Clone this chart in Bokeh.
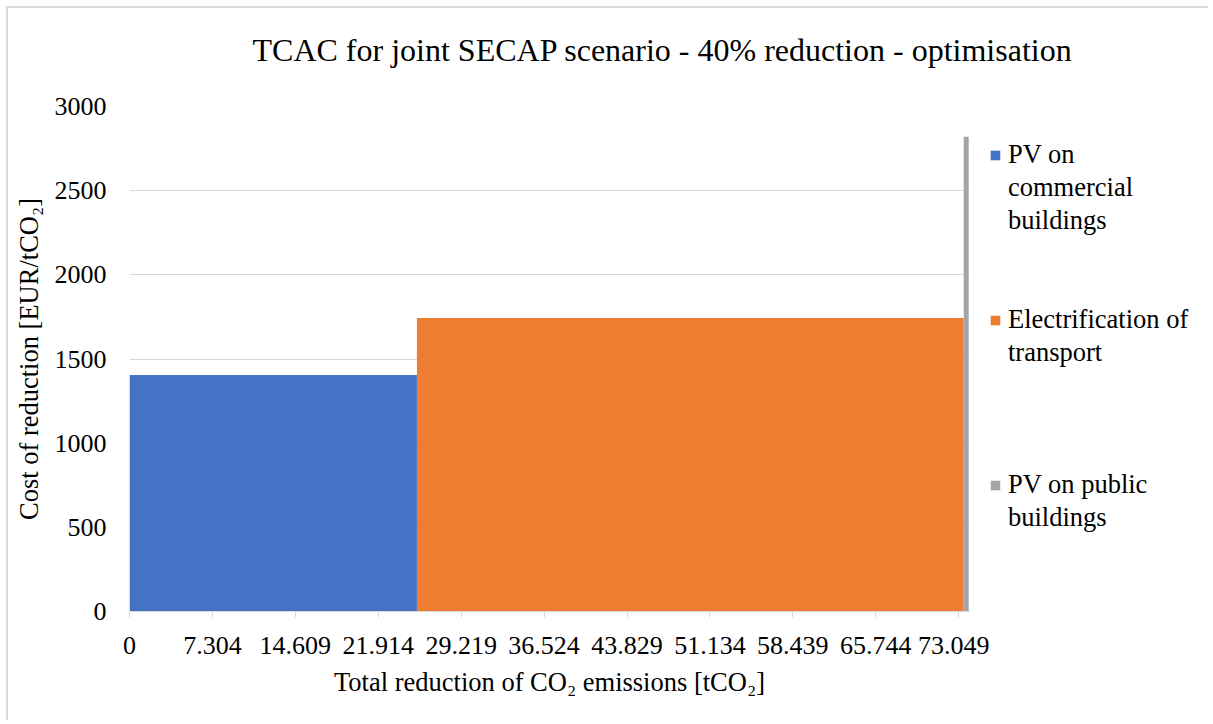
import numpy as np
from bokeh.plotting import figure
from bokeh.models import Range1d, FixedTicker, Legend, LegendItem, Label
from bokeh.layouts import row, column
from bokeh.embed import file_html
from bokeh.resources import INLINE

# ---- data ----
title_text = "TCAC for joint SECAP scenario - 40% reduction - optimisation"
measures = ["PV on commercial buildings", "Electrification of transport", "PV on public buildings"]
legend_labels = ["PV on\ncommercial\nbuildings", "Electrification of\ntransport", "PV on public\nbuildings"]
reduction = [25.32, 48.17, 0.44]          # tCO2 (bar widths)
cost = [1405, 1744, 2821]                 # EUR/tCO2 (bar heights)
colors = ["#4472C4", "#ED7D31", "#A5A5A5"]
x_tick_labels = ["0", "7.304", "14.609", "21.914", "29.219", "36.524",
                 "43.829", "51.134", "58.439", "65.744", "73.049"]
y_ticks = [0, 500, 1000, 1500, 2000, 2500, 3000]

right_edges = np.cumsum(reduction)
left_edges = right_edges - np.array(reduction)
x_ticks = [float(s) for s in x_tick_labels]

FONT = "Times New Roman"

# ---------- title strip ----------
pt = figure(width=1200, height=78, output_backend="svg", toolbar_location=None,
            title_location=None, x_axis_location=None, y_axis_location=None,
            min_border=0, x_range=Range1d(0, 1), y_range=Range1d(0, 1))
pt.outline_line_color = None
pt.grid.visible = False
pt.add_layout(Label(x=244, y=37, x_units="screen", y_units="screen", text=title_text,
                    text_font=FONT, text_font_size="32px", text_color="#000000",
                    text_baseline="alphabetic", text_align="left"))

# ---------- main chart ----------
p = figure(width=981, height=634, output_backend="svg", toolbar_location=None,
           title_location=None,
           x_range=Range1d(0, 74.0), y_range=Range1d(0, 3000),
           min_border_left=121, min_border_right=20, min_border_top=20, min_border_bottom=109)
p.outline_line_color = None

renderers = []
for i in range(len(measures)):
    r = p.quad(left=[left_edges[i]], right=[right_edges[i]], bottom=[0], top=[cost[i]],
               fill_color=colors[i], line_color=None)
    renderers.append(r)

xa = p.xaxis[0]
xa.ticker = FixedTicker(ticks=x_ticks)
xa.major_label_overrides = {x_ticks[i]: x_tick_labels[i] for i in range(len(x_ticks))}
xa.axis_line_color = "#d9d9d9"
xa.major_tick_line_color = "#d9d9d9"
xa.major_tick_in = 0
xa.major_tick_out = 6
xa.minor_tick_line_color = None
xa.major_label_text_font = FONT
xa.major_label_text_font_size = "26px"
xa.major_label_text_color = "#000000"
xa.major_label_standoff = 19
xa.axis_label = "Total reduction of CO\u2082 emissions [tCO\u2082]"
xa.axis_label_text_font = FONT
xa.axis_label_text_font_size = "26.5px"
xa.axis_label_text_font_style = "normal"
xa.axis_label_text_color = "#000000"
xa.axis_label_standoff = 10

ya = p.yaxis[0]
ya.ticker = FixedTicker(ticks=y_ticks)
ya.axis_line_color = None
ya.major_tick_line_color = None
ya.minor_tick_line_color = None
ya.major_label_text_font = FONT
ya.major_label_text_font_size = "26px"
ya.major_label_text_color = "#000000"
ya.major_label_standoff = 17
ya.axis_label = "Cost of reduction [EUR/tCO\u2082]"
ya.axis_label_text_font = FONT
ya.axis_label_text_font_size = "26.5px"
ya.axis_label_text_font_style = "normal"
ya.axis_label_text_color = "#000000"
ya.axis_label_standoff = 8

p.xgrid.grid_line_color = None
p.ygrid.ticker = FixedTicker(ticks=y_ticks)
p.ygrid.grid_line_color = "#d9d9d9"
p.ygrid.grid_line_width = 1

# ---------- legend strip ----------
pl = figure(width=219, height=634, output_backend="svg", toolbar_location=None,
            title_location=None, x_axis_location=None, y_axis_location=None,
            min_border=0, x_range=Range1d(-2, -1), y_range=Range1d(-2, -1))
pl.outline_line_color = None
pl.grid.visible = False
# swatch renderers carry the same data as the bars (outside this strip's view)
swatches = [pl.quad(left=[left_edges[i]], right=[right_edges[i]], bottom=[0], top=[cost[i]],
                    fill_color=colors[i], line_color=None)
            for i in range(len(measures))]
blank = pl.quad(left=[left_edges[0]], right=[right_edges[0]], bottom=[0], top=[cost[0]],
                fill_alpha=0, line_alpha=0)

blank_lines_after = [2, 3, 0]
items = []
for i, lab in enumerate(legend_labels):
    lines = lab.split("\n")
    for j, line in enumerate(lines):
        items.append(LegendItem(label=line, renderers=[swatches[i] if j == 0 else blank]))
    for k in range(blank_lines_after[i]):
        items.append(LegendItem(label=" " * (k + 1 + 4 * i), renderers=[blank]))

legend = Legend(items=items, location=(0, 77), orientation="vertical",
                glyph_width=12, glyph_height=12, label_standoff=7,
                label_height=33, spacing=0, padding=0, margin=0,
                border_line_color=None, background_fill_alpha=0,
                label_text_font=FONT, label_text_font_size="26.5px",
                label_text_color="#000000", label_text_line_height=1.0)
pl.add_layout(legend, "center")

layout = column(pt, row(p, pl))
layout.styles = {"margin-left": "6px", "margin-top": "6px",
                 "border-left": "2px solid #d9d9d9", "border-top": "2px solid #d9d9d9"}

open("out.html", "w").write(file_html(layout, INLINE))
